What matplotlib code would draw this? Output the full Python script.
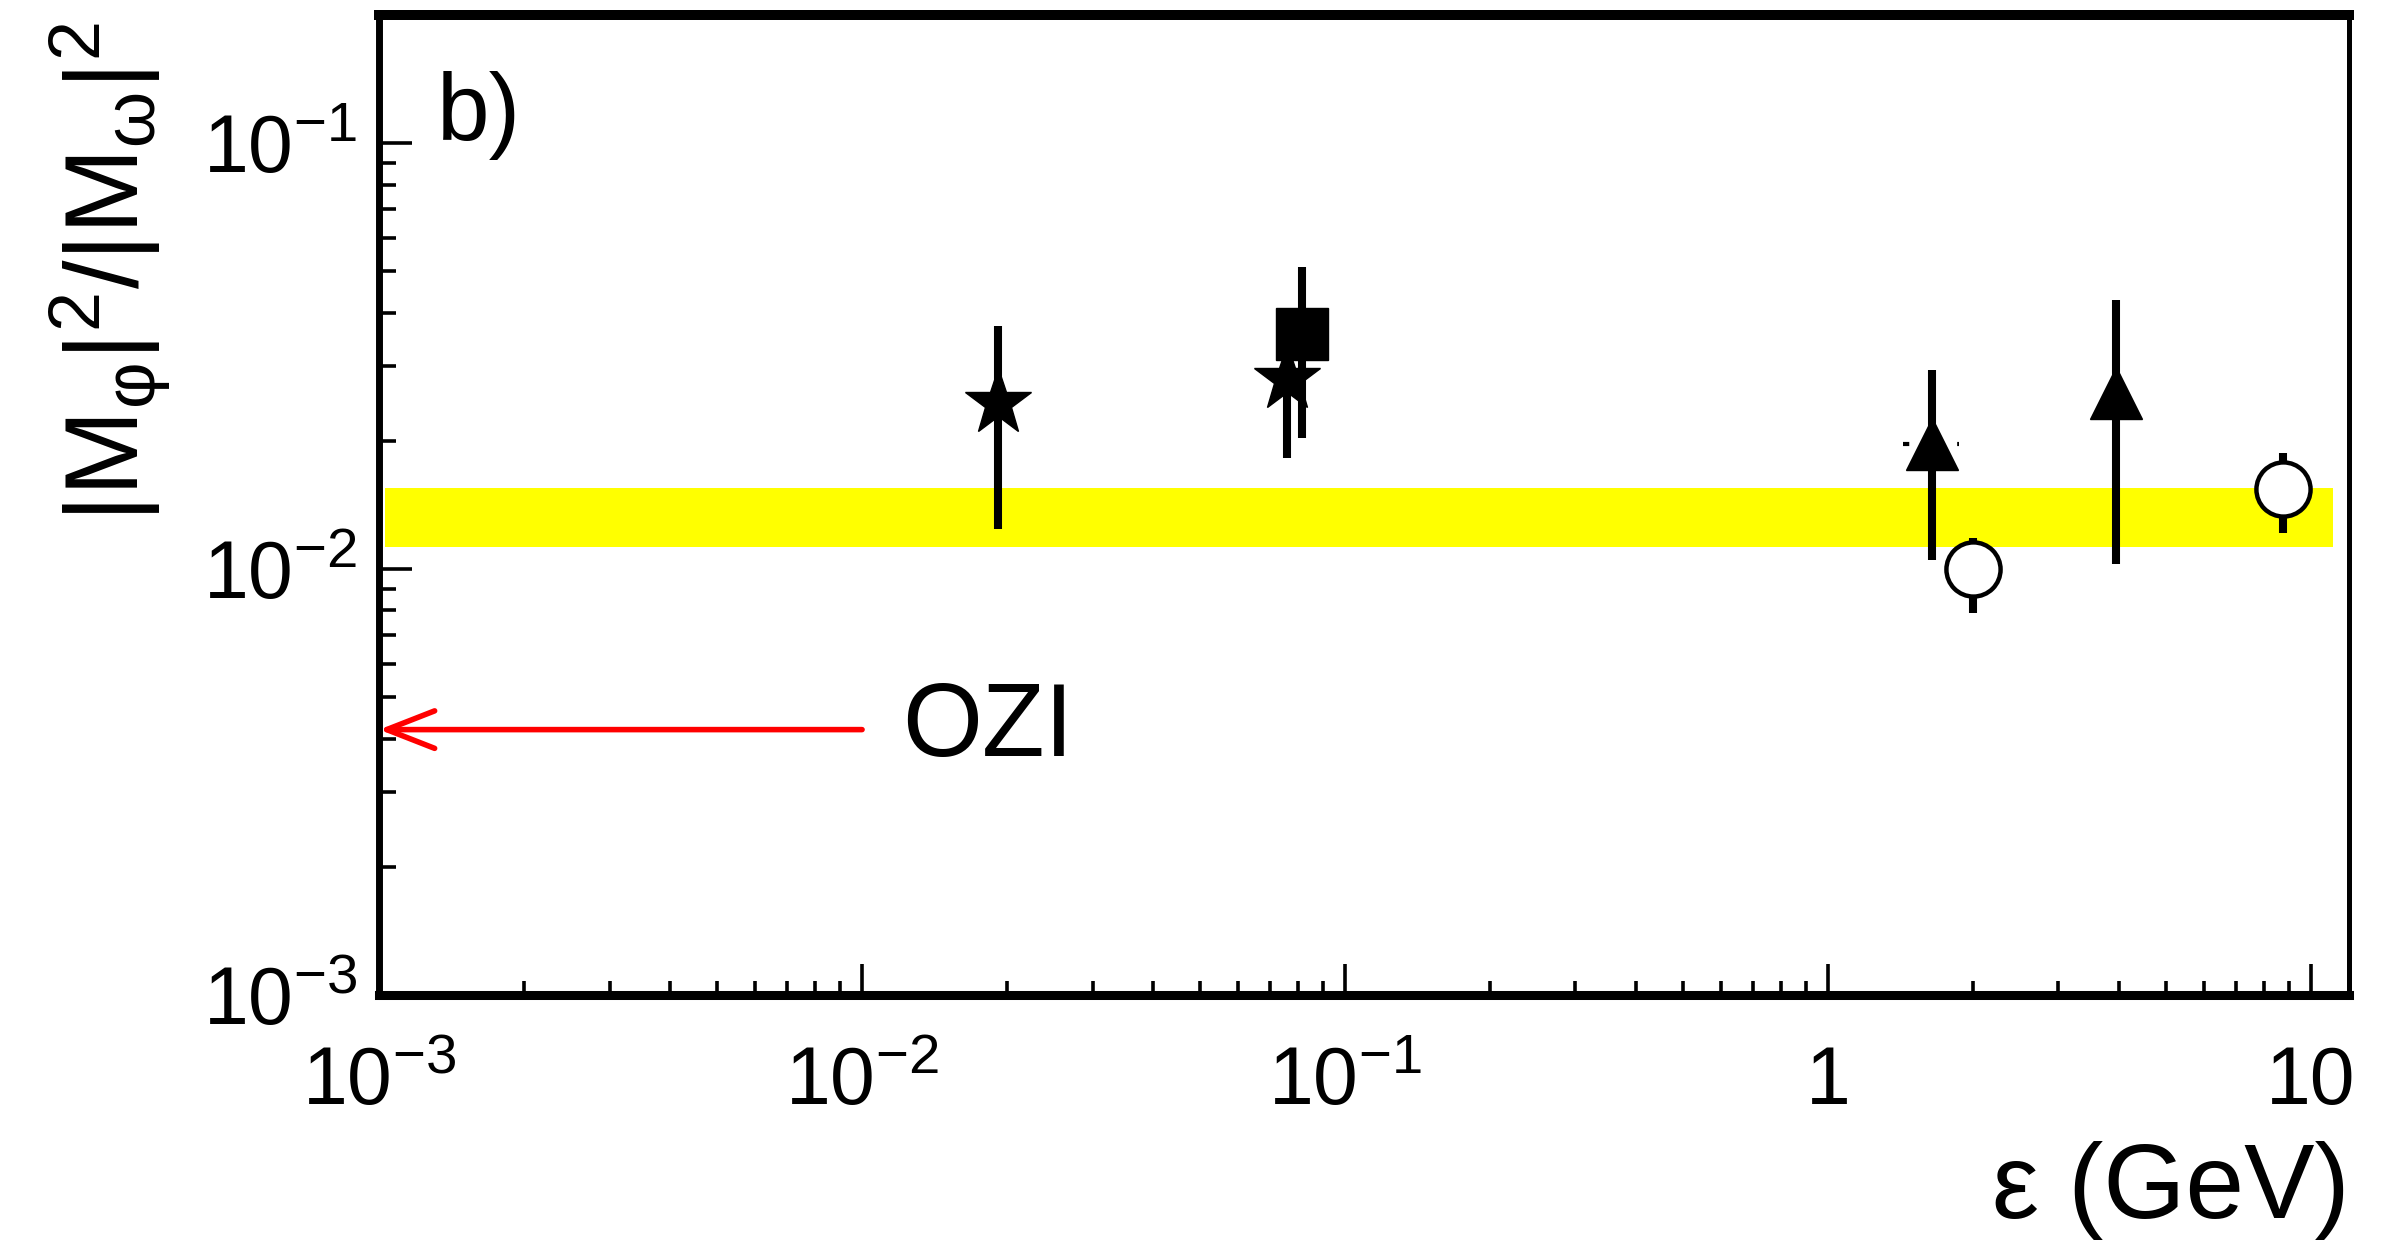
import matplotlib
matplotlib.use("Agg")
import matplotlib.pyplot as plt
from matplotlib.ticker import FixedLocator, LogLocator, NullFormatter, FuncFormatter
from matplotlib.transforms import ScaledTranslation
import numpy as np

plt.rcParams['font.family'] = ['Liberation Sans', 'DejaVu Sans']
plt.rcParams['mathtext.fontset'] = 'custom'
plt.rcParams['mathtext.rm'] = 'Liberation Sans'
plt.rcParams['mathtext.it'] = 'Liberation Sans:italic'
plt.rcParams['mathtext.default'] = 'regular'

# data
star_x = [0.0191, 0.0757]
star_y = [0.0246, 0.0279]
star_lo = [0.0124, 0.0182]
star_hi = [0.0372, 0.0370]

square_x = [0.0815]
square_y = [0.0357]
square_lo = [0.0203]
square_hi = [0.0511]

tri_x = [1.64, 3.95]
tri_y = [0.0197, 0.0259]
tri_lo = [0.0105, 0.0103]
tri_hi = [0.0293, 0.0429]
tri_xlo = [1.43]
tri_xhi = [1.87]

circ_x = [2.0, 8.77]
circ_y = [0.0100, 0.01545]
circ_lo = [0.00789, 0.01216]
circ_hi = [0.01186, 0.01872]

band_x = [1.03e-3, 11.1]
band_lo = 0.0113
band_hi = 0.0155

ozi_value = 0.0042
ozi_from = 1e-2

x_ticks = [1e-3, 1e-2, 1e-1, 1, 10]
x_labels = [r'$10^{-3}$', r'$10^{-2}$', r'$10^{-1}$', '1', '10']
y_ticks = [1e-3, 1e-2, 1e-1]
y_labels = [r'$10^{-3}$', r'$10^{-2}$', r'$10^{-1}$']


def err(y, lo, hi):
    y = np.array(y)
    return [y - np.array(lo), np.array(hi) - y]


fig = plt.figure(figsize=(24.07, 12.54), dpi=100)
ax = fig.add_axes([0.1575, 0.2065, 0.8185, 0.7815])
ax.set_xscale('log')
ax.set_yscale('log')
ax.set_xlim(1e-3, 12)
ax.set_ylim(1e-3, 0.2)

ax.fill_between(band_x, band_lo, band_hi, color='#ffff00', lw=0, zorder=1)

ebw = 5.8
ax.errorbar(star_x, star_y, yerr=err(star_y, star_lo, star_hi), fmt='*',
            color='black', ms=50, elinewidth=ebw, capsize=0, zorder=3)
ax.errorbar(square_x, square_y, yerr=err(square_y, square_lo, square_hi), fmt='s',
            color='black', ms=38, elinewidth=ebw, capsize=0, zorder=4)
hb = ax.errorbar(tri_x[:1], tri_y[:1], xerr=[np.array(tri_x[:1]) - tri_xlo, np.array(tri_xhi) - tri_x[:1]],
                 fmt='none', ecolor='black', elinewidth=3, capsize=0, zorder=3)
hb[2][0].set_linestyle((0, (1.5, 5)))
ax.errorbar(tri_x, tri_y, yerr=err(tri_y, tri_lo, tri_hi), fmt='^',
            color='black', ms=37, elinewidth=ebw, capsize=0, zorder=4)
ax.errorbar(circ_x, circ_y, yerr=err(circ_y, circ_lo, circ_hi), fmt='o',
            color='black', mfc='white', mec='black', mew=3.2, ms=39,
            elinewidth=ebw, capsize=0, zorder=4)

ax.annotate('', xy=(1e-3, ozi_value), xytext=(ozi_from, ozi_value),
            arrowprops=dict(arrowstyle='->,head_length=1.15,head_width=0.45',
                            color='#ff0000', lw=4, mutation_scale=30,
                            shrinkA=0, shrinkB=0), zorder=5)
ax.text(0.0121, ozi_value, 'OZI', fontsize=74, va='center', ha='left')
ax.text(0.0295, 0.898, 'b)', fontsize=68, transform=ax.transAxes, va='center', ha='left')

# axes frame, ROOT like
ax.spines['top'].set_linewidth(7.2)
ax.spines['bottom'].set_linewidth(6.5)
ax.spines['left'].set_linewidth(5.0)
ax.spines['right'].set_linewidth(3.6)

ax.xaxis.set_major_locator(FixedLocator(x_ticks))
ax.xaxis.set_major_formatter(FuncFormatter(lambda v, p: x_labels[x_ticks.index(v)] if v in x_ticks else ''))
ax.xaxis.set_minor_locator(LogLocator(base=10, subs=np.arange(2, 10)))
ax.xaxis.set_minor_formatter(NullFormatter())
ax.yaxis.set_major_locator(FixedLocator(y_ticks))
ax.yaxis.set_major_formatter(FuncFormatter(lambda v, p: y_labels[y_ticks.index(v)] if v in y_ticks else ''))
ax.yaxis.set_minor_locator(LogLocator(base=10, subs=np.arange(2, 10)))
ax.yaxis.set_minor_formatter(NullFormatter())

ax.tick_params(which='both', direction='in', top=False, right=False, width=2.6, labelsize=58)
ax.tick_params(axis='x', which='major', length=22, pad=36)
ax.tick_params(axis='x', which='minor', length=10)
ax.tick_params(axis='y', which='major', length=24, pad=16)
ax.tick_params(axis='y', which='minor', length=12)

# put the "10" of the y labels on the tick, exponent above it
for lab in ax.get_yticklabels():
    lab.set_va('baseline')
    lab.set_transform(lab.get_transform() + ScaledTranslation(0, -20.8 / 72, fig.dpi_scale_trans))

ax.text(-0.137, 0.993, r'$|M_{\varphi}|^2/|M_{\omega}|^2$', fontsize=74, rotation=90,
        transform=ax.transAxes, ha='center', va='top')
ax.text(1.0, -0.199, 'ε (GeV)', fontsize=76, transform=ax.transAxes, ha='right', va='center')

fig.savefig('out.png', dpi=100)
